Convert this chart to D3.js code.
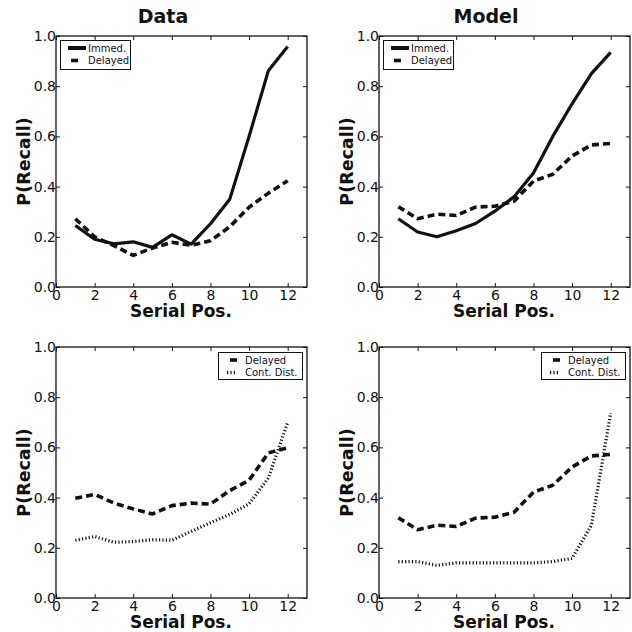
<!DOCTYPE html>
<html>
<head>
<meta charset="utf-8">
<script src="https://cdn.jsdelivr.net/npm/d3@7"></script>
<style>
  html, body { margin: 0; padding: 0; background: #fff; }
  svg text { font-family: "DejaVu Sans", sans-serif; fill: #111; }
</style>
</head>
<body>
<svg id="chart" width="632" height="632"></svg>
<script>
// ---- data ----
const positions = [1, 2, 3, 4, 5, 6, 7, 8, 9, 10, 11, 12];
const dataImmed    = [0.245, 0.19, 0.172, 0.18, 0.158, 0.208, 0.171, 0.252, 0.35, 0.60, 0.862, 0.958];
const dataDelayed  = [0.272, 0.20, 0.165, 0.126, 0.155, 0.178, 0.166, 0.184, 0.24, 0.318, 0.374, 0.423];
const modelImmed   = [0.272, 0.219, 0.20, 0.224, 0.253, 0.302, 0.36, 0.454, 0.60, 0.73, 0.85, 0.935];
const modelDelayed = [0.32, 0.272, 0.29, 0.285, 0.318, 0.322, 0.342, 0.422, 0.449, 0.522, 0.566, 0.572];
const dataDelayedB = [0.397, 0.413, 0.378, 0.355, 0.335, 0.368, 0.378, 0.374, 0.428, 0.469, 0.578, 0.598];
const dataContDist = [0.23, 0.245, 0.222, 0.225, 0.232, 0.23, 0.265, 0.30, 0.333, 0.375, 0.478, 0.70];
const modelContDist = [0.145, 0.145, 0.13, 0.14, 0.14, 0.14, 0.14, 0.14, 0.145, 0.158, 0.29, 0.737];
const xTicks = [0, 2, 4, 6, 8, 10, 12];
const yTicks = [0.0, 0.2, 0.4, 0.6, 0.8, 1.0];
const titles = ["Data", "Model"];

const styles = {
  solid:  { dash: null,  width: 3.2 },
  dashed: { dash: "7,4", width: 3.6 },
  dotted: { dash: "1.2,2.2", width: 3.2 }
};

const panels = [
  { x: 56,  y: 36,  title: titles[0], titleX: 163, legendPos: "left",
    series: [{ name: "Immed.", values: dataImmed, style: "solid" },
             { name: "Delayed", values: dataDelayed, style: "dashed" }] },
  { x: 379, y: 36,  title: titles[1], titleX: 486, legendPos: "left",
    series: [{ name: "Immed.", values: modelImmed, style: "solid" },
             { name: "Delayed", values: modelDelayed, style: "dashed" }] },
  { x: 56,  y: 347, title: null, legendPos: "right",
    series: [{ name: "Delayed", values: dataDelayedB, style: "dashed" },
             { name: "Cont. Dist.", values: dataContDist, style: "dotted" }] },
  { x: 379, y: 347, title: null, legendPos: "right",
    series: [{ name: "Delayed", values: modelDelayed, style: "dashed" },
             { name: "Cont. Dist.", values: modelContDist, style: "dotted" }] }
];

const W = 251, H = 251;
const svg = d3.select("#chart");

panels.forEach(p => {
  const g = svg.append("g").attr("transform", `translate(${p.x},${p.y})`);
  const x = d3.scaleLinear().domain([0, 13]).range([0, W]);
  const y = d3.scaleLinear().domain([0, 1]).range([H, 0]);

  // lines
  const line = d3.line().x((d, i) => x(positions[i])).y(d => y(d));
  p.series.forEach(s => {
    const st = styles[s.style];
    g.append("path")
      .datum(s.values)
      .attr("d", line)
      .attr("fill", "none")
      .attr("stroke", "#111")
      .attr("stroke-width", st.width)
      .attr("stroke-linejoin", "round")
      .attr("stroke-dasharray", st.dash);
  });

  // axes with inward ticks
  const fmtY = d3.format(".1f");
  const axB = d3.axisBottom(x).tickValues(xTicks).tickSize(-4).tickPadding(3).tickFormat(d3.format("d"));
  const axT = d3.axisTop(x).tickValues(xTicks).tickSize(-4).tickFormat("");
  const axL = d3.axisLeft(y).tickValues(yTicks).tickSize(-4).tickPadding(0).tickFormat(fmtY);
  const axR = d3.axisRight(y).tickValues(yTicks).tickSize(-4).tickFormat("");

  const gb = g.append("g").attr("transform", `translate(0,${H})`).call(axB);
  const gt = g.append("g").call(axT);
  const gl = g.append("g").call(axL);
  const gr = g.append("g").attr("transform", `translate(${W},0)`).call(axR);
  [gt, gr].forEach(a => a.selectAll(".tick text").remove());
  [gb, gt, gl, gr].forEach(a => {
    a.select(".domain").remove();
    a.selectAll(".tick line").attr("stroke", "#111").attr("stroke-width", 1);
    a.selectAll(".tick text").style("font-size", "14px").style("font-family", "DejaVu Sans, sans-serif").attr("fill", "#222");
  });

  // frame
  g.append("rect").attr("x", 0).attr("y", 0).attr("width", W).attr("height", H)
    .attr("fill", "none").attr("stroke", "#111").attr("stroke-width", 1.3);

  // axis labels
  g.append("text")
    .attr("x", W / 2 - 0.5).attr("y", H + 30)
    .attr("text-anchor", "middle")
    .style("font-size", "17px").style("font-weight", "bold")
    .text("Serial Pos.");
  g.append("text")
    .attr("transform", `translate(-32.5,${H / 2}) rotate(-90)`)
    .attr("text-anchor", "middle")
    .attr("dominant-baseline", "central")
    .style("font-size", "17.5px").style("font-weight", "bold")
    .text("P(Recall)");

  // title
  if (p.title) {
    svg.append("text")
      .attr("x", p.titleX).attr("y", 23)
      .attr("text-anchor", "middle")
      .style("font-size", "19px").style("font-weight", "bold")
      .text(p.title);
  }

  // legend
  const lg = g.append("g");
  let bx, by, bw, bh, sx0, sx1, tx;
  if (p.legendPos === "left") {
    bx = 4.5; by = 4.5; bw = 70; bh = 29;
    sx0 = 12; sx1 = 30; tx = 32;
  } else {
    bx = 162.5; by = 5.5; bw = 84; bh = 27;
    sx0 = 171; sx1 = 181; tx = 189;
  }
  lg.append("rect").attr("x", bx).attr("y", by).attr("width", bw).attr("height", bh)
    .attr("fill", "#fff").attr("stroke", "#111").attr("stroke-width", 1);
  p.series.forEach((s, i) => {
    const cy = by + 7.5 + i * 12.5;
    let a = sx0, b = sx1;
    if (s.style === "dashed") { a = sx0 + 3; b = a + 7; }
    lg.append("line")
      .attr("x1", a).attr("x2", b).attr("y1", cy).attr("y2", cy)
      .attr("stroke", "#111")
      .attr("stroke-width", s.style === "solid" ? 4 : 3.6)
      .attr("stroke-dasharray", s.style === "dotted" ? "1.2,2.2" : null);
    lg.append("text")
      .attr("x", tx).attr("y", cy)
      .attr("dominant-baseline", "central")
      .style("font-size", "10px")
      .text(s.name);
  });
});
</script>
</body>
</html>
